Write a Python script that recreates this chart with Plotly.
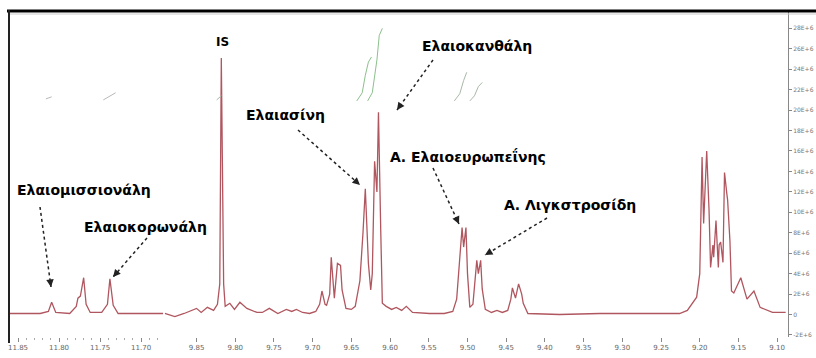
import plotly.graph_objects as go

# ---------------- data ----------------
# left window of the broken ppm axis (11.86 - 11.67 ppm)
left_ppm = [11.861, 11.823, 11.813, 11.809, 11.804, 11.787, 11.779, 11.777, 11.774,
            11.770, 11.767, 11.762, 11.748, 11.741, 11.738, 11.734, 11.728, 11.673]
left_int = [0.1, 0.1, 0.3, 1.2, 0.2, 0.1, 0.8, 1.6, 1.8,
            3.6, 1.0, 0.2, 0.2, 1.0, 3.5, 0.9, 0.1, 0.1]

# right window (9.89 - 9.09 ppm)
right_ppm = [9.891, 9.878, 9.866, 9.850, 9.844, 9.836, 9.828, 9.823, 9.820, 9.818,
             9.815, 9.813, 9.807, 9.801, 9.794, 9.785, 9.772, 9.765, 9.756, 9.745,
             9.734, 9.727, 9.721, 9.713, 9.704, 9.696, 9.691, 9.688, 9.684, 9.682,
             9.678, 9.676, 9.672, 9.668, 9.664, 9.662, 9.657, 9.650, 9.645, 9.639,
             9.635, 9.632, 9.628, 9.625, 9.623, 9.620, 9.617, 9.615, 9.612, 9.610,
             9.605, 9.598, 9.592, 9.585, 9.579, 9.571, 9.549, 9.530, 9.519, 9.514,
             9.510, 9.507, 9.505, 9.502, 9.500, 9.497, 9.493, 9.491, 9.488, 9.486,
             9.483, 9.481, 9.477, 9.469, 9.462, 9.455, 9.448, 9.444, 9.442, 9.438,
             9.434, 9.430, 9.428, 9.422, 9.381, 9.329, 9.278, 9.226, 9.216, 9.209,
             9.204, 9.200, 9.197, 9.195, 9.191, 9.188, 9.186, 9.183, 9.182, 9.179,
             9.176, 9.175, 9.173, 9.170, 9.168, 9.165, 9.164, 9.161, 9.159, 9.156,
             9.147, 9.139, 9.130, 9.122, 9.113, 9.106, 9.089]
right_int = [0.1, -0.2, 0.1, 0.6, 0.2, 0.7, 0.4, 1.0, 3.0, 25.1,
             3.0, 0.8, 1.1, 0.5, 1.2, 0.6, 0.2, 0.2, 0.6, 0.1,
             0.5, 0.3, 0.5, 0.2, 0.1, 0.3, 1.0, 2.3, 1.0, 0.9,
             2.0, 5.6, 1.6, 5.0, 4.8, 2.4, 0.6, 0.5, 0.8, 3.3,
             8.0, 12.3, 5.0, 2.4, 4.0, 15.0, 12.0, 19.8, 8.0, 1.1,
             0.8, 0.5, 0.7, 0.4, 0.8, 0.2, 0.1, 0.1, 0.3, 1.5,
             5.5, 8.5, 6.6, 8.5, 4.0, 0.7, 1.0, 3.0, 5.3, 4.0,
             5.3, 2.5, 0.5, 0.2, 0.4, 0.2, 0.4, 1.5, 2.6, 1.6,
             3.0, 2.0, 1.1, 0.1, 0.0, 0.1, 0.1, 0.1, 0.4, 1.2,
             1.7, 4.0, 15.4, 8.9, 16.0, 10.2, 4.6, 6.8, 5.6, 9.2,
             4.6, 6.8, 7.1, 5.1, 13.9, 11.8, 11.2, 7.2, 2.3, 2.1,
             3.6, 1.5, 2.3, 0.7, 0.4, 0.2, 0.2]

# integral curves
integ_left_ppm = [11.816, 11.809, None, 11.746, 11.738, 11.731]
integ_left_val = [21.1, 21.3, None, 21.0, 21.4, 21.7]
integ_green_ppm = [9.643, 9.636, 9.632, 9.628, 9.624, None,
                   9.629, 9.623, 9.617, 9.614, 9.610]
integ_green_val = [20.9, 21.7, 23.4, 24.7, 25.2, None,
                   20.9, 21.7, 24.9, 27.3, 28.0]
integ_gray_ppm = [9.824, 9.818, None, 9.517, 9.510, 9.505, 9.501, None,
                  9.497, 9.491, 9.486, 9.481]
integ_gray_val = [21.0, 21.4, None, 20.9, 21.6, 22.9, 23.7, None,
                  20.9, 21.4, 22.3, 22.7]

left_ticks = [11.85, 11.80, 11.75, 11.70]
right_ticks = [9.85, 9.80, 9.75, 9.70, 9.65, 9.60, 9.55, 9.50, 9.45,
               9.40, 9.35, 9.30, 9.25, 9.20, 9.15, 9.10]
y_ticks = [-2, 0, 2, 4, 6, 8, 10, 12, 14, 16, 18, 20, 22, 24, 26, 28]
y_ticktext = ["0" if v == 0 else f"{v}E+6" for v in y_ticks]

labels = ["IS", "Ελαιοκανθάλη", "Ελαιασίνη", "Α. Ελαιοευρωπεΐνης",
          "Α. Λιγκστροσίδη", "Ελαιομισσιονάλη", "Ελαιοκορωνάλη"]

# ---------------- figure ----------------
W, H = 816, 358
ML, MR, MT, MB = 9, 28, 12, 21
PW, PH = W - ML - MR, H - MT - MB


def px(x):
    return (x - ML) / PW


def py(y):
    return (H - MB - y) / PH


line_col = "#b0565f"
fig = go.Figure()
fig.add_trace(go.Scatter(x=left_ppm, y=left_int, mode="lines", xaxis="x", yaxis="y",
                         line=dict(color=line_col, width=1.3), showlegend=False))
fig.add_trace(go.Scatter(x=right_ppm, y=right_int, mode="lines", xaxis="x2", yaxis="y",
                         line=dict(color=line_col, width=1.3), showlegend=False))
fig.add_trace(go.Scatter(x=integ_left_ppm, y=integ_left_val, mode="lines", xaxis="x", yaxis="y",
                         line=dict(color="#b8b8b8", width=1), showlegend=False))
fig.add_trace(go.Scatter(x=integ_green_ppm, y=integ_green_val, mode="lines", xaxis="x2", yaxis="y",
                         line=dict(color="#8cc08c", width=1), showlegend=False))
fig.add_trace(go.Scatter(x=integ_gray_ppm, y=integ_gray_val, mode="lines", xaxis="x2", yaxis="y",
                         line=dict(color="#a8b8a8", width=1), showlegend=False))

axis_common = dict(showgrid=False, zeroline=False, showline=False, ticks="outside",
                   ticklen=4, tickcolor="#888", tickformat=".2f",
                   tickfont=dict(family="DejaVu Sans", size=7, color="#666"),
                   minor=dict(ticks="outside", ticklen=2, tickcolor="#aaa", showgrid=False))
fig.update_layout(
    width=W, height=H,
    margin=dict(l=ML, r=MR, t=MT, b=MB, autoexpand=False),
    paper_bgcolor="white", plot_bgcolor="white",
    xaxis=dict(domain=[0, 0.198], range=[11.861, 11.673], anchor="y",
               tickmode="array", tickvals=left_ticks, **axis_common),
    xaxis2=dict(domain=[0.2, 1.0], range=[9.891, 9.086], anchor="y",
                tickmode="array", tickvals=right_ticks, **axis_common),
    yaxis=dict(range=[-2.2, 29.6], anchor="x2", side="right", showgrid=False, zeroline=False,
               showline=True, linecolor="#888", linewidth=1, ticks="outside", ticklen=3,
               tickcolor="#888", tickmode="array", tickvals=y_ticks, ticktext=y_ticktext,
               tickfont=dict(family="DejaVu Sans", size=6, color="#777"),
               automargin=False),
)

# frame lines (top and left)
fig.add_shape(type="line", xref="paper", yref="paper", x0=px(7), x1=px(W + 2),
              y0=py(11), y1=py(11), line=dict(color="black", width=3))
fig.add_shape(type="line", xref="paper", yref="paper", x0=px(9), x1=px(9),
              y0=py(10), y1=py(343), line=dict(color="#222", width=2))
fig.add_shape(type="line", xref="paper", yref="paper", x0=px(10), x1=px(W + 2),
              y0=py(14), y1=py(14), line=dict(color="#ccc", width=1))

# labels: (centre px, arrow tail px, arrow tip px)
label_pos = [
    ((222, 42), None, None),
    ((477, 46), (433, 60), (397, 110)),
    ((285, 115), (298, 130), (360, 185)),
    ((468, 156), (433, 168), (459, 224)),
    ((570, 205), (547, 218), (485, 255)),
    ((84, 190), (40, 207), (51, 287)),
    ((145, 227), (147, 238), (113, 277)),
]
for text, (c, tail, tip) in zip(labels, label_pos):
    fig.add_annotation(x=px(c[0]), y=py(c[1]), xref="paper", yref="paper",
                       text=f"<b>{text}</b>", showarrow=False,
                       font=dict(family="DejaVu Sans", size=14 if text != "IS" else 12,
                                 color="black"),
                       xanchor="center", yanchor="middle")
    if tail is not None:
        fig.add_shape(type="line", xref="paper", yref="paper",
                      x0=px(tail[0]), y0=py(tail[1]), x1=px(tip[0]), y1=py(tip[1]),
                      line=dict(color="#222", width=1.5, dash="dot"))
        dx, dy = tail[0] - tip[0], tail[1] - tip[1]
        n = (dx * dx + dy * dy) ** 0.5
        fig.add_annotation(x=px(tip[0]), y=py(tip[1]), xref="paper", yref="paper",
                           ax=dx / n * 7, ay=dy / n * 7, text="", showarrow=True,
                           arrowhead=2, arrowsize=1, arrowwidth=1.5, arrowcolor="#222")

fig.write_html("out.html", config={"displayModeBar": False},
               post_script="document.body.style.margin='0';")
